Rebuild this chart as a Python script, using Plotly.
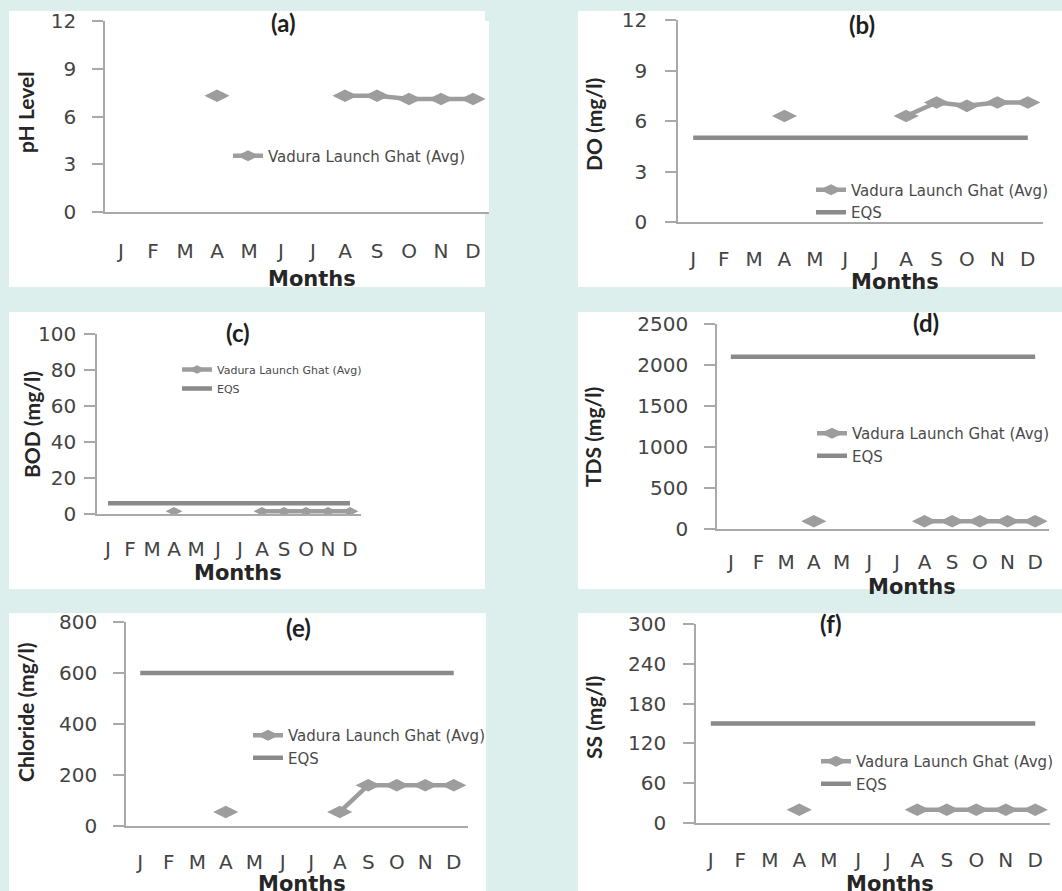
import plotly.graph_objects as go

W, H = 1062, 891

months = ["J", "F", "M", "A", "M", "J", "J", "A", "S", "O", "N", "D"]
month_idx = list(range(len(months)))

ph_avg = [None, None, None, 7.3, None, None, None, 7.3, 7.3, 7.1, 7.1, 7.1]
do_avg = [None, None, None, 6.3, None, None, None, 6.3, 7.1, 6.9, 7.1, 7.1]
do_eqs = 5
bod_avg = [None, None, None, 1.5, None, None, None, 1.5, 1.5, 1.5, 1.5, 1.5]
bod_eqs = 6
tds_avg = [None, None, None, 95, None, None, None, 95, 95, 95, 95, 95]
tds_eqs = 2100
cl_avg = [None, None, None, 55, None, None, None, 55, 160, 160, 160, 160]
cl_eqs = 600
ss_avg = [None, None, None, 20, None, None, None, 20, 20, 20, 20, 20]
ss_eqs = 150

ph_ticks = [0, 3, 6, 9, 12]
do_ticks = [0, 3, 6, 9, 12]
bod_ticks = [0, 20, 40, 60, 80, 100]
tds_ticks = [0, 500, 1000, 1500, 2000, 2500]
cl_ticks = [0, 200, 400, 600, 800]
ss_ticks = [0, 60, 120, 180, 240, 300]

series_name = "Vadura Launch Ghat (Avg)"
eqs_name = "EQS"

BG = "#dcefec"
DATA_C = "#9d9d9d"
EQS_C = "#8a8a8a"
AXIS_C = "#a9a9a9"
TICK_FONT = dict(family="DejaVu Sans", size=20, color="#444444")
YT_FONT = dict(family="Lato", size=21, color="#262626")
TITLE_FONT = dict(family="Lato", size=24, color="#1e1e1e")
MONTHS_FONT = dict(family="DejaVu Sans", size=21, color="#262626")

# panel specs: pixel geometry
panels = [
    dict(tag="(a)", ytitle="pH Level", vals=ph_avg, eqs=None, ticks=ph_ticks,
         box=(9, 11, 485, 287), plot=(105, 21, 489, 212), title=(283, 22),
         yt=(26, 113), months=(312, 279), leg=(228, 139.5), legfs=15, msize=18,
         xso=20, yso=12),
    dict(tag="(b)", ytitle="DO (mg/l)", vals=do_avg, eqs=do_eqs, ticks=do_ticks,
         box=(578, 11, 1062, 287), plot=(678, 20, 1043, 222), title=(862, 25),
         yt=(593, 125), months=(895, 282), leg=(811, 173.5), legfs=15, msize=18,
         xso=18, yso=14),
    dict(tag="(c)", ytitle="BOD (mg/l)", vals=bod_avg, eqs=bod_eqs, ticks=bod_ticks,
         box=(9, 312, 485, 589), plot=(97, 334, 361, 514), title=(238, 333),
         yt=(32, 425), months=(238, 573), leg=(177, 355), legfs=11, msize=12,
         xso=16, yso=4),
    dict(tag="(d)", ytitle="TDS (mg/l)", vals=tds_avg, eqs=tds_eqs, ticks=tds_ticks,
         box=(578, 312, 1062, 589), plot=(717, 324, 1049, 529), title=(926, 322),
         yt=(592, 437), months=(912, 587), leg=(812, 417), legfs=15, msize=18,
         xso=14, yso=12),
    dict(tag="(e)", ytitle="Chloride (mg/l)", vals=cl_avg, eqs=cl_eqs, ticks=cl_ticks,
         box=(9, 613, 486, 891), plot=(126, 622, 468, 826), title=(298, 627),
         yt=(25, 712), months=(302, 884), leg=(248, 719), legfs=15, msize=18,
         xso=17, yso=12),
    dict(tag="(f)", ytitle="SS (mg/l)", vals=ss_avg, eqs=ss_eqs, ticks=ss_ticks,
         box=(578, 613, 1062, 891), plot=(696, 624, 1050, 823), title=(831, 623),
         yt=(593, 718), months=(890, 884), leg=(816, 745), legfs=15, msize=18,
         xso=18, yso=13),
]


def px(x):
    return x / W


def py(y):
    return 1 - y / H


fig = go.Figure()
layout = dict(
    width=W, height=H,
    margin=dict(l=0, r=0, t=0, b=0, pad=0, autoexpand=False),
    paper_bgcolor=BG, plot_bgcolor="white", shapes=[], annotations=[],
    showlegend=True,
)

for i, p in enumerate(panels):
    n = i + 1
    sfx = "" if n == 1 else str(n)
    xa, ya = "x" + sfx, "y" + sfx
    leg = "legend" + sfx
    x0, y0, x1, y1 = p["plot"]

    # panel background
    bx0, by0, bx1, by1 = p["box"]
    layout["shapes"].append(dict(type="rect", xref="paper", yref="paper",
                                 x0=px(bx0), x1=px(bx1), y0=py(by1), y1=py(by0),
                                 fillcolor="white", line=dict(width=0), layer="below"))

    fig.add_trace(go.Scatter(
        x=month_idx, y=p["vals"], name=series_name, mode="lines+markers",
        connectgaps=False, xaxis=xa, yaxis=ya, legend=leg, showlegend=True,
        line=dict(color=DATA_C, width=4.5),
        marker=dict(symbol="diamond-wide", size=p["msize"], color=DATA_C),
        cliponaxis=False,
    ))
    if p["eqs"] is not None:
        fig.add_trace(go.Scatter(
            x=month_idx, y=[p["eqs"]] * len(months), name=eqs_name, mode="lines",
            xaxis=xa, yaxis=ya, legend=leg, showlegend=True,
            line=dict(color=EQS_C, width=4.5),
        ))

    ymax = p["ticks"][-1]
    layout["xaxis" + sfx] = dict(
        domain=[px(x0), px(x1)], anchor=ya, range=[-0.5, 11.5],
        tickvals=month_idx, ticktext=months, showgrid=False, zeroline=False,
        showline=True, linecolor=AXIS_C, linewidth=1.5, ticks="",
        tickfont=TICK_FONT, ticklabelstandoff=p["xso"], fixedrange=True,
        automargin=False,
    )
    layout["yaxis" + sfx] = dict(
        domain=[py(y1), py(y0)], anchor=xa, range=[0, ymax],
        tickvals=p["ticks"], showgrid=False, zeroline=False,
        showline=True, linecolor=AXIS_C, linewidth=1.5,
        ticks="outside", ticklen=11, tickcolor=AXIS_C, tickwidth=1.5,
        tickfont=TICK_FONT, ticklabelstandoff=p["yso"], fixedrange=True,
        automargin=False,
    )
    lx, ly = p["leg"]
    layout[leg] = dict(
        x=px(lx), y=py(ly), xref="paper", yref="paper", xanchor="left", yanchor="top",
        bgcolor="rgba(0,0,0,0)", borderwidth=0, visible=True,
        font=dict(family="DejaVu Sans", size=p["legfs"], color="#4a4a4a"),
        tracegroupgap=0, itemclick=False, itemdoubleclick=False,
    )

    tx, ty = p["title"]
    layout["annotations"].append(dict(
        text="<b>%s</b>" % p["tag"], x=px(tx), y=py(ty), xref="paper", yref="paper",
        showarrow=False, font=TITLE_FONT, xanchor="center", yanchor="middle"))
    yx, yy = p["yt"]
    layout["annotations"].append(dict(
        text="<b>%s</b>" % p["ytitle"], x=px(yx), y=py(yy), xref="paper", yref="paper",
        showarrow=False, font=YT_FONT, textangle=-90, xanchor="center", yanchor="middle"))
    mx, my = p["months"]
    layout["annotations"].append(dict(
        text="<b>Months</b>", x=px(mx), y=py(my), xref="paper", yref="paper",
        showarrow=False, font=MONTHS_FONT, xanchor="center", yanchor="middle"))

fig.update_layout(**layout)
fig.write_html("out.html", config={"displayModeBar": False})
